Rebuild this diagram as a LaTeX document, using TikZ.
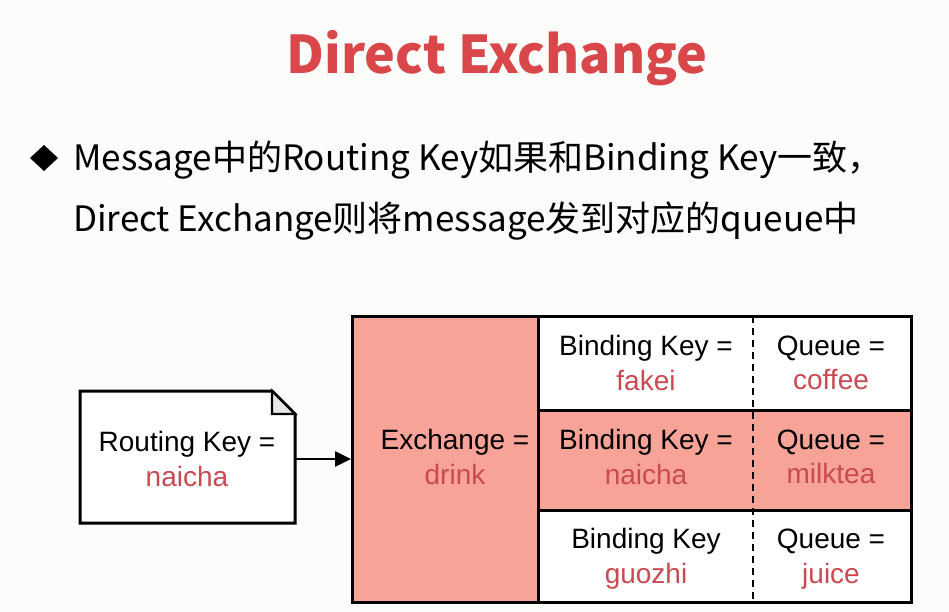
\documentclass[tikz,border=0pt]{standalone}
\usepackage{fontspec}
\setmainfont{Liberation Sans}
\newfontfamily\cjk{Noto Sans CJK SC}
\usetikzlibrary{arrows.meta}
\definecolor{bg}{HTML}{FCFCFA}
\definecolor{titlered}{HTML}{D9474A}
\definecolor{valred}{HTML}{C94A53}
\definecolor{salmon}{HTML}{F8A397}
\definecolor{foldgray}{HTML}{E6E6E6}
\tikzset{
  celltext/.style={align=center, font=\fontsize{28}{34.5}\selectfont, inner sep=0pt},
  frame/.style={draw=black, line width=3pt},
}
\newcommand{\val}[1]{\textcolor{valred}{#1}}
\begin{document}
\begin{tikzpicture}[x=1pt,y=-1pt]
\fill[bg] (0,0) rectangle (949,612);
\useasboundingbox (0,0) rectangle (949,612);
% title
\node[font=\cjk\bfseries\fontsize{52}{56}\selectfont, text=titlered, anchor=base] (title) at (497,74) {Direct Exchange};
% bullet
\fill (30,158) -- (44,145) -- (58,158) -- (44,171) -- cycle;
\node[font=\cjk\fontsize{35}{40}\selectfont, anchor=base west, inner sep=0pt] (line1) at (73,171) {Message中的Routing Key如果和Binding Key一致，};
\node[font=\cjk\fontsize{35}{40}\selectfont, anchor=base west, inner sep=0pt] (line2) at (73,231) {Direct Exchange则将message发到对应的queue中};
% message box with folded corner
\draw[frame, fill=white, line join=miter] (80,391) -- (272,391) -- (295,414) -- (295,523) -- (80,523) -- cycle;
\draw[line width=2.2pt, fill=foldgray, line join=miter] (272,391) -- (272,414) -- (295,414) -- cycle;
\node[celltext] (msg) at (187,459) {Routing Key =\\\val{naicha}};
\coordinate (msgr) at (295,459);
% table
\fill[salmon] (352,316) rectangle (538,602);
\fill[white] (538,316) rectangle (911,410);
\fill[salmon] (538,410) rectangle (911,510);
\fill[white] (538,510) rectangle (911,602);
\draw[line width=3pt] (538,410) -- (911,410);
\draw[line width=3pt] (538,510) -- (911,510);
\draw[line width=3pt] (538,316) -- (538,602);
\draw[line width=2.6pt, dash pattern=on 7pt off 5pt] (753,316) -- (753,602);
\draw[frame] (352,316) rectangle (911,602);
\coordinate (exl) at (351,459);
\node[celltext] (ex) at (455,457) {Exchange =\\\val{drink}};
\node[celltext] (b1) at (646,363) {Binding Key =\\\val{fakei}};
\node[celltext] (q1) at (831,363) {Queue =\\\val{coffee}};
\node[celltext] (b2) at (646,457) {Binding Key =\\\val{naicha}};
\node[celltext] (q2) at (831,457) {Queue =\\\val{milktea}};
\node[celltext] (b3) at (646,559) {Binding Key\\\val{guozhi}};
\node[celltext] (q3) at (831,559) {Queue =\\\val{juice}};
% arrow
\draw[line width=2.6pt, -{Triangle[length=16pt,width=15pt]}] (msgr) -- (exl);
\end{tikzpicture}
\end{document}
